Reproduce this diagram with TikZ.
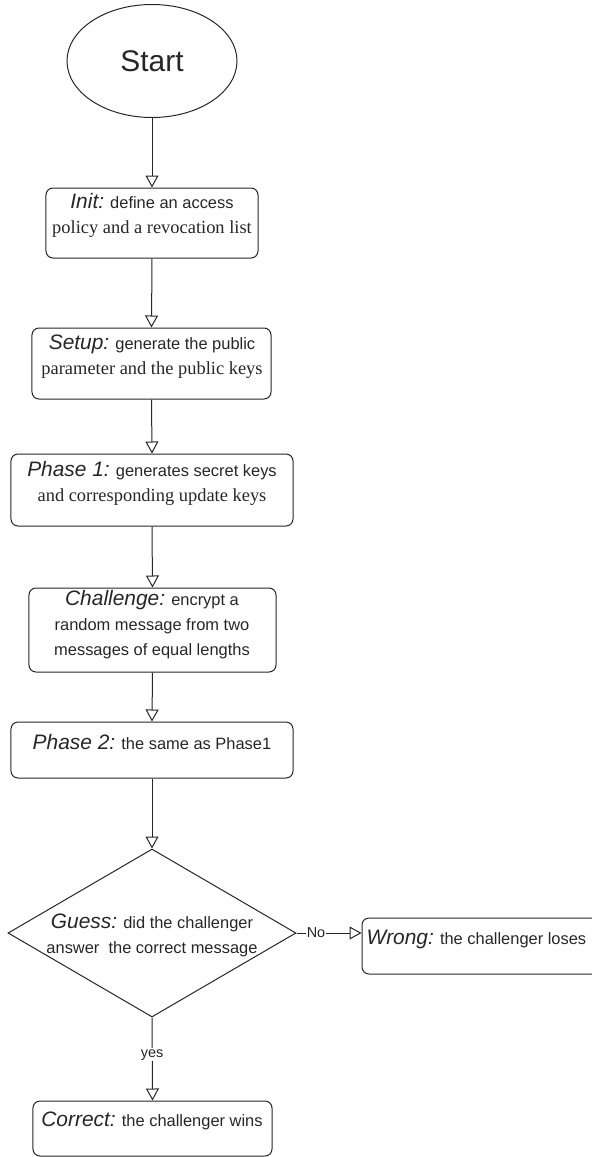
\documentclass[tikz,border=0pt]{standalone}
\usepackage{fontspec}
\setmainfont{Liberation Serif}
\setsansfont{Liberation Sans}
\usetikzlibrary{shapes.geometric,arrows.meta}
\newcommand\hd[1]{{\fontsize{21}{25}\selectfont\itshape #1}}
\newcommand\sr[1]{{\rmfamily\fontsize{18.5}{25}\selectfont #1}}
\tikzset{
  box/.style={draw,rounded corners=7bp,inner sep=0pt},
  txt/.style={font=\sffamily\fontsize{16.5}{25}\selectfont,align=center,inner sep=0pt},
  lbl/.style={font=\sffamily\fontsize{14.5}{16}\selectfont,fill=white,inner sep=1pt}
}
\begin{document}
\begin{tikzpicture}[x=1bp,y=-1bp,>={Triangle[open,length=12bp,width=13bp]},
    line width=1bp,color=black!85]
        \useasboundingbox (0,0) rectangle (592,1157);
        %\draw[gray!30] (0,0) grid[step=50] (592,1157);
        \node[ellipse,draw,minimum width=170bp,minimum height=113bp,
        font=\sffamily\fontsize{30}{36}\selectfont] (start) at (152,61) {Start};
        \node[box,minimum width=212bp,minimum height=70bp] (init) at (152,223) {};
        \node[txt] (init-t) at (152,215.5)
        {\hd{Init:} define an access\\ \sr{policy and a revocation list}};
        \node[box,minimum width=239bp,minimum height=71bp] (setup) at (151.5,363.5) {};
        \node[txt] (setup-t) at (152,357)
        {\hd{Setup:} generate the public\\ \sr{parameter and the public keys}};
        \node[box,minimum width=282bp,minimum height=72bp] (phase1) at (152,490) {};
        \node[txt] (phase1-t) at (152,483.5)
        {\hd{Phase 1:} generates secret keys\\ \sr{and corresponding update keys}};
        \node[box,minimum width=247bp,minimum height=84bp] (challenge) at (152.5,630) {};
        \node[txt] (challenge-t) at (152,625)
        {\hd{Challenge:} encrypt a\\ random message from two\\ messages of equal lengths};
        \node[box,minimum width=282bp,minimum height=56bp] (phase2) at (152,750) {};
        \node[txt] (phase2-t) at (152,742) {\hd{Phase 2:} the same as Phase1};
        \node[diamond,draw,minimum width=288bp,minimum height=168bp,inner sep=0pt]
        (guess) at (152,933) {};
        \node[txt] (guess-t) at (152,935)
        {\hd{Guess:} did the challenger\\ answer\ \ the correct message};
        \node[box,minimum width=238bp,minimum height=56bp] (wrong) at (481,946) {};
        \node[txt,anchor=west] (wrong-t) at (366,939) {\hd{Wrong:} the challenger loses};
        \node[box,minimum width=239bp,minimum height=55bp] (correct) at (152.5,1128.5) {};
        \node[txt] (correct-t) at (152,1121) {\hd{Correct:} the challenger wins};
        \foreach \a/\b in {start/init,init/setup,setup/phase1,phase1/challenge,
            challenge/phase2,phase2/guess}
        \draw[->] (\a.south) -- (\b.north);
        \draw[->] (guess.east) -- node[lbl,pos=0.3](no){No} (guess.east -| wrong.west);
        \draw[->] (guess.south) -- node[lbl,pos=0.45](yes){yes} (correct.north);
    \end{tikzpicture}
\end{document}
